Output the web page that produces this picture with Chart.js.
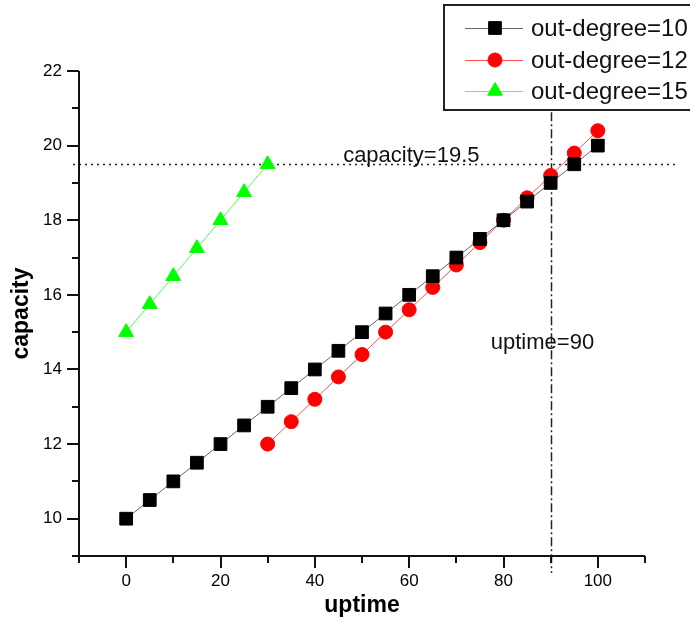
<!DOCTYPE html>
<html>
<head>
<meta charset="utf-8">
<script src="https://cdn.jsdelivr.net/npm/chart.js@4.4.0/dist/chart.umd.min.js"></script>
<style>
html, body { margin: 0; padding: 0; background: #fff; }
#wrap { width: 690px; height: 619px; }
</style>
</head>
<body>
<div id="wrap"><canvas id="capacity_chart" width="690" height="619"></canvas></div>
<script>
// values
const uptime10 = [0, 5, 10, 15, 20, 25, 30, 35, 40, 45, 50, 55, 60, 65, 70, 75, 80, 85, 90, 95, 100]
const capacity10 = [10, 10.5, 11, 11.5, 12, 12.5, 13, 13.5, 14, 14.5, 15, 15.5, 16, 16.5, 17, 17.5, 18, 18.5, 19, 19.5, 20]
const uptime12 = [30, 35, 40, 45, 50, 55, 60, 65, 70, 75, 80, 85, 90, 95, 100]
const capacity12 = [12, 12.6, 13.2, 13.8, 14.4, 15, 15.6, 16.2, 16.8, 17.4, 18, 18.6, 19.2, 19.8, 20.4]
const uptime15 = [0, 5, 10, 15, 20, 25, 30]
const capacity15 = [15, 15.75, 16.5, 17.25, 18, 18.75, 19.5]

const capacityLimit = 19.5
const uptimeLimit = 90
const capacityNote = 'capacity=19.5'
const uptimeNote = 'uptime=90'

const xTickLabels = [0, 20, 40, 60, 80, 100]
const yTickLabels = [10, 12, 14, 16, 18, 20, 22]

const FONT = "'Liberation Sans', Arial, sans-serif"

const toPoints = (xs, ys) => xs.map((x, i) => ({ x: x, y: ys[i] }))

// axis lines, major/minor tick marks
const axesPlugin = {
    id: 'axes',
    afterDraw(chart) {
        const ctx = chart.ctx
        const xs = chart.scales.x
        const ys = chart.scales.y
        const area = chart.chartArea
        ctx.save()
        ctx.strokeStyle = '#111'
        ctx.lineWidth = 2
        ctx.beginPath()
        ctx.moveTo(area.left, area.top)
        ctx.lineTo(area.left, area.bottom)
        ctx.moveTo(area.left, area.bottom)
        ctx.lineTo(area.right, area.bottom)
        xs.ticks.forEach((t) => {
            const px = Math.round(xs.getPixelForValue(t.value))
            const len = xTickLabels.includes(t.value) ? 12 : 7
            ctx.moveTo(px, area.bottom)
            ctx.lineTo(px, area.bottom + len)
        })
        ys.ticks.forEach((t) => {
            const py = Math.round(ys.getPixelForValue(t.value))
            const len = yTickLabels.includes(t.value) ? 12 : 7
            ctx.moveTo(area.left, py)
            ctx.lineTo(area.left - len, py)
        })
        ctx.stroke()
        ctx.restore()
    }
}

// the two reference lines and their notes
const limitsPlugin = {
    id: 'limits',
    beforeDatasetsDraw(chart) {
        const ctx = chart.ctx
        const xs = chart.scales.x
        const ys = chart.scales.y
        const area = chart.chartArea
        const hy = Math.round(ys.getPixelForValue(capacityLimit)) + 0.5
        const vx = Math.round(xs.getPixelForValue(uptimeLimit)) + 0.5
        ctx.save()
        ctx.strokeStyle = '#222'
        ctx.lineWidth = 1.5
        ctx.setLineDash([2, 4])
        ctx.beginPath()
        ctx.moveTo(area.left - 6, hy)
        ctx.lineTo(chart.width - 12, hy)
        ctx.stroke()
        ctx.setLineDash([9, 3, 2, 3])
        ctx.beginPath()
        ctx.moveTo(vx, ys.getPixelForValue(21.35))
        ctx.lineTo(vx, area.bottom + 17)
        ctx.stroke()
        ctx.setLineDash([])
        ctx.fillStyle = '#111'
        ctx.font = '22px ' + FONT
        ctx.textBaseline = 'alphabetic'
        ctx.fillText(capacityNote, xs.getPixelForValue(46), hy - 3)
        ctx.fillText(uptimeNote, xs.getPixelForValue(77.3), ys.getPixelForValue(14.55))
        ctx.restore()
    }
}

// framed legend in the top right corner
const legendPlugin = {
    id: 'boxLegend',
    afterDraw(chart) {
        const ctx = chart.ctx
        const rows = [28, 60, 91]
        ctx.save()
        ctx.fillStyle = '#fff'
        ctx.fillRect(444, 5, 250, 105)
        ctx.strokeStyle = '#222'
        ctx.lineWidth = 2
        ctx.strokeRect(444, 5, 250, 105)
        chart.data.datasets.forEach((ds, i) => {
            const y = rows[i]
            ctx.strokeStyle = ds.borderColor
            ctx.lineWidth = 1
            ctx.beginPath()
            ctx.moveTo(465, y + 0.5)
            ctx.lineTo(523, y + 0.5)
            ctx.stroke()
            ctx.fillStyle = ds.pointBackgroundColor
            ctx.strokeStyle = ds.pointBackgroundColor
            Chart.helpers.drawPoint(ctx, {
                pointStyle: ds.pointStyle,
                radius: ds.pointRadius,
                rotation: 0,
                borderWidth: 1
            }, 495, y)
            ctx.fillStyle = '#111'
            ctx.font = '24px ' + FONT
            ctx.textBaseline = 'middle'
            ctx.fillText(ds.label, 531, y + 1)
        })
        ctx.restore()
    }
}

const canvas = document.querySelector('#capacity_chart')

const chart = new Chart(canvas, {
    type: 'line',
    data: {
        datasets: [
            {
                label: 'out-degree=10',
                data: toPoints(uptime10, capacity10),
                borderColor: '#666',
                borderWidth: 1,
                pointStyle: 'rect',
                pointRadius: 9,
                pointBackgroundColor: '#000',
                pointBorderColor: '#000',
                pointBorderWidth: 1,
            },
            {
                label: 'out-degree=12',
                data: toPoints(uptime12, capacity12),
                borderColor: '#ff5050',
                borderWidth: 1,
                pointStyle: 'circle',
                pointRadius: 7,
                pointBackgroundColor: '#ff0000',
                pointBorderColor: '#ff0000',
                pointBorderWidth: 1,
            },
            {
                label: 'out-degree=15',
                data: toPoints(uptime15, capacity15),
                borderColor: '#50ff50',
                borderWidth: 1,
                pointStyle: 'triangle',
                pointRadius: 8.5,
                pointBackgroundColor: '#00ff00',
                pointBorderColor: '#00ff00',
                pointBorderWidth: 1,
            },
        ]
    },
    options: {
        responsive: false,
        animation: false,
        clip: false,
        layout: {
            padding: { top: 71, right: 45, left: 0, bottom: 0 }
        },
        plugins: {
            legend: { display: false },
            tooltip: { enabled: false },
        },
        scales: {
            x: {
                type: 'linear',
                min: -10,
                max: 110,
                afterFit: (scale) => { scale.height = 63 },
                grid: { drawOnChartArea: false, drawTicks: true, tickLength: 12, color: 'transparent', tickColor: 'transparent' },
                border: { display: false },
                ticks: {
                    stepSize: 10,
                    autoSkip: false,
                    maxRotation: 0,
                    padding: 3,
                    color: '#000',
                    font: { family: FONT, size: 17 },
                    callback: (v) => xTickLabels.includes(v) ? v : '',
                },
                title: {
                    display: true,
                    text: 'uptime',
                    color: '#000',
                    font: { family: FONT, size: 23, weight: 'bold' },
                    padding: { top: 0, bottom: 0 },
                },
            },
            y: {
                type: 'linear',
                min: 9,
                max: 22,
                afterFit: (scale) => { scale.width = 79 },
                grid: { drawOnChartArea: false, drawTicks: true, tickLength: 12, color: 'transparent', tickColor: 'transparent' },
                border: { display: false },
                ticks: {
                    stepSize: 1,
                    autoSkip: false,
                    padding: 5,
                    color: '#000',
                    font: { family: FONT, size: 17 },
                    callback: (v) => yTickLabels.includes(v) ? v : '',
                },
                title: {
                    display: true,
                    text: 'capacity',
                    color: '#000',
                    font: { family: FONT, size: 23, weight: 'bold' },
                    padding: { top: 8, bottom: 0 },
                },
            },
        },
    },
    plugins: [limitsPlugin, axesPlugin, legendPlugin]
})
</script>
</body>
</html>
